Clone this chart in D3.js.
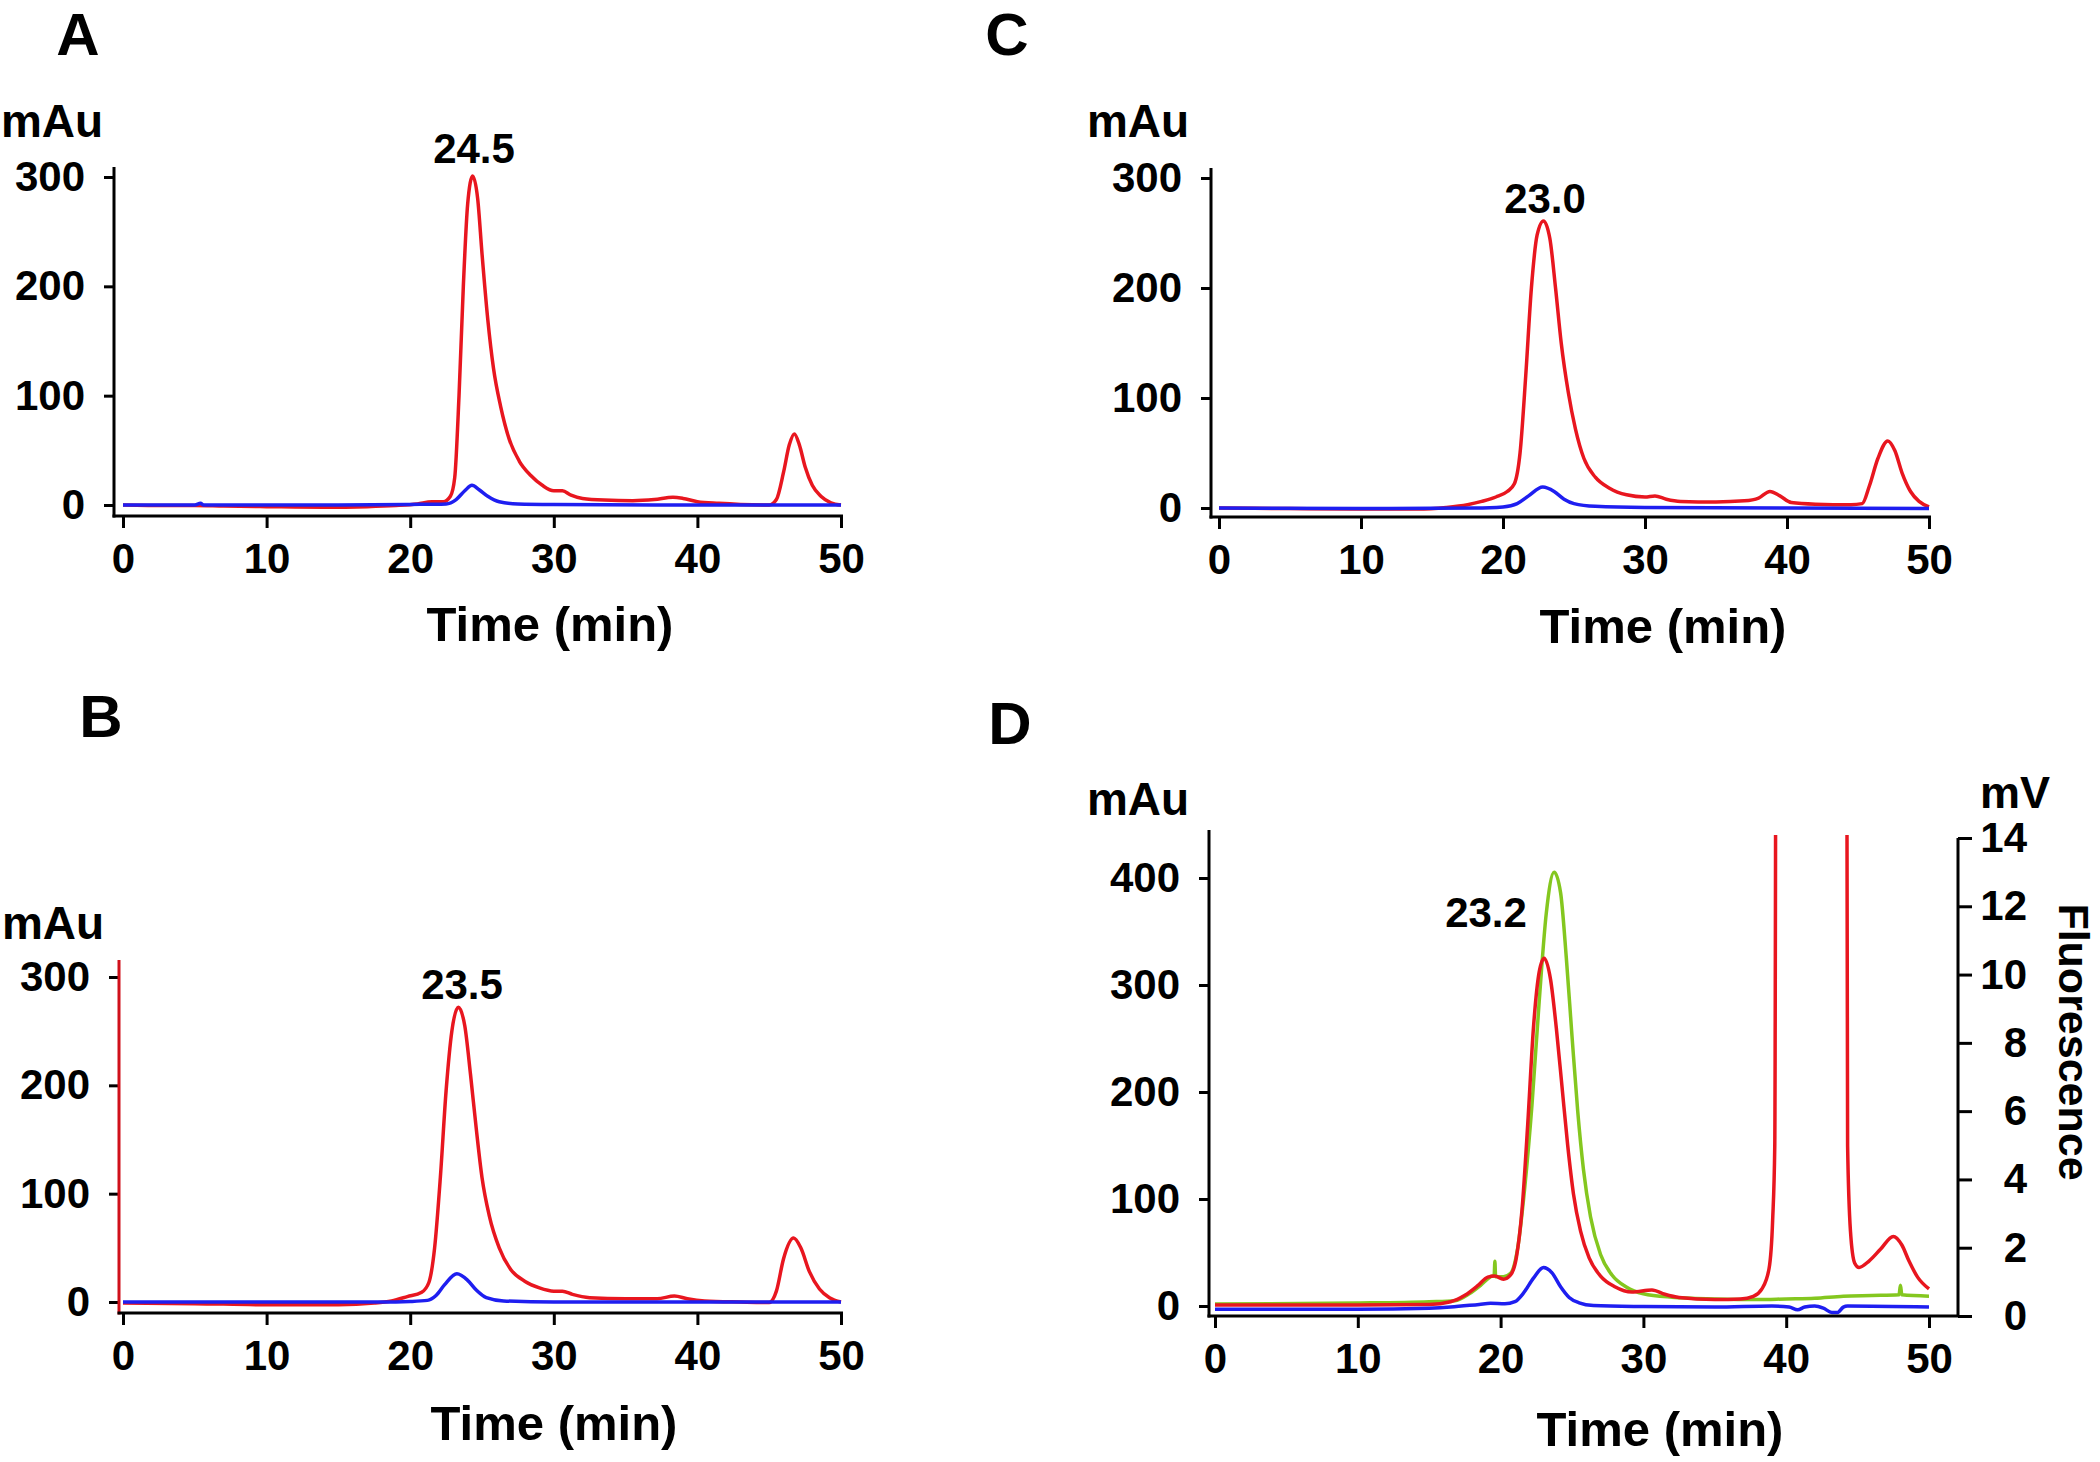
<!DOCTYPE html>
<html><head><meta charset="utf-8">
<script src="https://cdn.jsdelivr.net/npm/d3@7"></script>
<style>
html,body{margin:0;padding:0;background:#fff;}
svg{display:block;}
text{font-family:"Liberation Sans",Arial,sans-serif;font-weight:bold;fill:#000;}
</style>
</head><body>
<svg id="c" width="2100" height="1462"></svg>
<script>
// ---------- data ----------
const timeTicks = [0, 10, 20, 30, 40, 50];
const mAuTicks = [0, 100, 200, 300];
const mAuTicksD = [0, 100, 200, 300, 400];
const mVTicks = [0, 2, 4, 6, 8, 10, 12, 14];
const panelLetters = ["A", "B", "C", "D"];
const peakLabels = ["24.5", "23.5", "23.0", "23.2"];

// [time (min), absorbance (mAu)]
const redA = [[0,0],[3,-0.5],[5,-0.5],[7,-1],[10,-1.5],[14,-2],[17,-1.5],[19,-0.5],[20.5,1],[21.5,3],[22.3,3],[22.8,8],[23.1,25],[23.4,100],[23.7,200],[24.0,275],[24.35,301],[24.7,280],[25.0,230],[25.4,170],[25.8,125],[26.3,90],[26.9,60],[27.6,40],[28.4,27],[29.2,18],[30.0,13],[30.6,13],[31.2,9],[32,6],[33.5,4.5],[35.5,4],[37,5],[38.3,7],[39,6],[40,3],[41.5,1.5],[43,0.5],[45,0],[45.5,5],[46,30],[46.4,55],[46.75,65],[47.1,55],[47.5,35],[48,18],[48.6,8],[49.3,2],[50,0]];
const blueA = [[0,0],[5,0],[5.4,1.5],[5.6,0],[10,0],[15,0],[20,0.5],[22.5,1],[23.2,5],[23.8,13],[24.3,18],[24.8,14],[25.4,8],[26.2,3],[27.5,1],[30,0.5],[40,0],[50,0]];

const redB = [[0,-1],[5,-1.5],[10,-2.5],[15,-2.5],[17.5,-1],[18.7,1],[19.8,5],[20.8,9],[21.3,18],[21.7,50],[22.1,115],[22.5,195],[22.9,250],[23.35,272],[23.8,255],[24.2,210],[24.6,160],[25.0,115],[25.5,80],[26.2,50],[27,30],[28,19],[29,13],[30,10],[30.6,10],[31.3,7],[32.5,4],[35,3],[37.2,3],[38.4,5.5],[39.3,3],[40.5,1],[43,0],[45,-0.5],[45.5,10],[46,40],[46.7,59],[47.2,50],[47.8,28],[48.5,12],[49.2,4],[50,0]];
const blueB = [[0,0],[10,0],[18,0],[20,0.5],[21.2,1.5],[21.8,6],[22.4,16],[23.25,26],[24,20],[24.6,11],[25.3,4],[26.5,1],[30,0],[50,0]];

const redC = [[0,0],[5,-0.5],[10,-1],[14,-1],[16,0.5],[17.5,3],[18.5,6],[19.5,10],[20.3,15],[20.8,22],[21.2,50],[21.6,120],[22.0,200],[22.4,248],[22.85,261],[23.3,245],[23.7,200],[24.1,150],[24.6,105],[25.1,72],[25.7,45],[26.5,28],[27.5,18],[28.7,12],[30,10],[30.7,11],[31.5,8],[32.5,6],[35,5.5],[37,6.5],[38,9],[38.8,15],[39.5,11],[40.3,5],[42,3.5],[44.5,3],[45.3,4],[45.8,20],[46.4,45],[47.1,61],[47.6,52],[48.1,32],[48.7,15],[49.3,6],[50,1]];
const blueC = [[0,0],[10,-0.5],[18,0],[20,1],[21,4],[21.8,11],[22.8,19],[23.6,15],[24.3,8],[25,4],[26.5,1.5],[30,0.5],[40,0],[50,-0.5]];

const redD = [[0,1],[10,1],[15,1.5],[16.5,4],[17.5,10],[18.4,19],[19.1,27],[19.6,28],[20.2,25],[20.7,29],[21.1,45],[21.5,90],[21.9,170],[22.3,260],[22.7,312],[23.05,325],[23.5,305],[23.9,260],[24.3,205],[24.7,150],[25.1,105],[25.6,70],[26.2,45],[27,28],[28,18],[29.2,13],[30.6,15],[31.5,11],[32.5,8],[35,6],[36.8,6.5],[37.7,9],[38.3,16],[38.8,35],[39.05,80],[39.2,150],[39.4,1500],[44.1,1500],[44.3,150],[44.5,70],[44.8,40],[45.1,36],[45.8,42],[46.6,53],[47.5,65],[48.1,57],[48.6,42],[49.2,27],[50,16]];
const blueD = [[0,-3],[10,-3],[15,-2],[16.5,-1],[18.5,1.5],[19.3,2.5],[20.3,2],[21,4],[21.6,12],[22.3,26],[23.0,36],[23.6,31],[24.2,18],[24.8,8],[25.5,3],[26.5,0.5],[30,-0.5],[35,-1],[39,0],[40.2,-1],[40.8,-3.5],[41.3,-1],[42,0],[42.6,-2],[43.2,-6],[43.6,-6],[44,-1],[44.3,0],[50,-1]];
// [time (min), fluorescence (mV)]
const greenD = [[0,0.35],[10,0.38],[15,0.42],[16.8,0.45],[17.8,0.65],[18.6,0.9],[19.3,1.15],[19.55,1.2],[19.6,1.6],[19.65,1.15],[20.2,1.15],[20.7,1.25],[21.2,2.0],[21.7,3.8],[22.2,6.2],[22.7,9.2],[23.2,11.8],[23.75,13.0],[24.2,12.4],[24.6,10.5],[25.0,8.2],[25.4,6.0],[25.8,4.3],[26.3,2.9],[27,1.8],[27.8,1.2],[28.8,0.85],[30,0.65],[32,0.55],[35,0.5],[38,0.48],[40,0.5],[42,0.52],[44,0.58],[46,0.6],[47.9,0.62],[48,0.9],[48.1,0.62],[50,0.58]];

// ---------- style ----------
const RED = "#e8161f", BLUE = "#1e1ef0", GREEN = "#84c71f";
const svg = d3.select("#c");

const panels = [
  {id:"A", letter:panelLetters[0], peak:peakLabels[0], ax:114, top:167, base:516, xEnd:843, xr:[123,841], yd:[0,300], yr:[505,177], yt:mAuTicks,
   letterPos:[78,55], mAuPos:[52,137], peakPos:[474,163], titlePos:[550,641], axisColor:"#000",
   series:[{d:redA,c:RED},{d:blueA,c:BLUE}]},
  {id:"B", letter:panelLetters[1], peak:peakLabels[1], ax:119, top:960, base:1313, xEnd:843, xr:[123,841], yd:[0,300], yr:[1302,977], yt:mAuTicks,
   letterPos:[101,737], mAuPos:[53,939], peakPos:[462,999], titlePos:[554,1440], axisColor:"#d0101a",
   series:[{d:redB,c:RED},{d:blueB,c:BLUE}]},
  {id:"C", letter:panelLetters[2], peak:peakLabels[2], ax:1211, top:168, base:517, xEnd:1931, xr:[1219,1929], yd:[0,300], yr:[508,178], yt:mAuTicks,
   letterPos:[1007,55], mAuPos:[1138,137], peakPos:[1545,213], titlePos:[1663,643], axisColor:"#000",
   series:[{d:redC,c:RED},{d:blueC,c:BLUE}]},
  {id:"D", letter:panelLetters[3], peak:peakLabels[3], ax:1209, top:830, base:1316, xEnd:1958, xr:[1215,1929], yd:[0,400], yr:[1306,878], yt:mAuTicksD,
   letterPos:[1010,744], mAuPos:[1138,815], peakPos:[1486,927], titlePos:[1660,1446], axisColor:"#000",
   series:[{d:greenD,c:GREEN,right:true},{d:redD,c:RED},{d:blueD,c:BLUE}],
   right:{x:1958, yd:[0,14], yr:[1316,838], ticks:mVTicks, labelRight:2027, unitPos:[2015,808], titlePos:[2074,1042]}}
];

function styleAxis(sel){
  sel.attr("font-family", null).attr("font-size", null);
  sel.selectAll("text").attr("font-size", 42).attr("fill", "#000");
  sel.selectAll(".tick line").attr("stroke", "#000").attr("stroke-width", 3);
  sel.select(".domain").remove();
}

panels.forEach(p => {
  const g = svg.append("g").attr("id", "panel" + p.id);
  const x = d3.scaleLinear().domain([0, 50]).range(p.xr);
  const y = d3.scaleLinear().domain(p.yd).range(p.yr);

  // clip for traces
  const clipId = "clip" + p.id;
  g.append("clipPath").attr("id", clipId).append("rect")
    .attr("x", p.ax).attr("y", p.top + 5).attr("width", p.xEnd - p.ax).attr("height", p.base - p.top - 5);

  // y axis ticks (left)
  const ya = d3.axisLeft(y).tickValues(p.yt).tickSize(10).tickPadding(19).tickFormat(d3.format("d"));
  g.append("g").attr("transform", `translate(${p.ax},0)`).call(ya).call(styleAxis);

  // x axis ticks
  const xa = d3.axisBottom(x).tickValues(timeTicks).tickSize(12).tickPadding(15).tickFormat(d3.format("d"));
  g.append("g").attr("transform", `translate(0,${p.base})`).call(xa).call(styleAxis);

  // right axis
  let yR = null;
  if (p.right) {
    const r = p.right;
    yR = d3.scaleLinear().domain(r.yd).range(r.yr);
    const ra = d3.axisRight(yR).tickValues(r.ticks).tickSize(14).tickPadding(4).tickFormat(d3.format("d"));
    const rg = g.append("g").attr("transform", `translate(${r.x},0)`).call(ra).call(styleAxis);
    rg.selectAll(".tick text").attr("text-anchor", "end").attr("x", r.labelRight - r.x);
    g.append("line").attr("x1", r.x).attr("x2", r.x).attr("y1", r.yr[1]).attr("y2", p.base)
      .attr("stroke", "#000").attr("stroke-width", 3);
    g.append("text").attr("x", r.unitPos[0]).attr("y", r.unitPos[1]).attr("text-anchor", "middle")
      .attr("font-size", 45).text("mV");
    g.append("text").attr("transform", `translate(${r.titlePos[0]},${r.titlePos[1]}) rotate(90)`)
      .attr("text-anchor", "middle").attr("dominant-baseline", "central")
      .attr("font-size", 43).text("Fluorescence");
  }

  // traces
  const tg = g.append("g").attr("clip-path", `url(#${clipId})`);
  p.series.forEach(s => {
    const ys = s.right ? yR : y;
    const line = d3.line().x(d => x(d[0])).y(d => ys(d[1])).curve(d3.curveMonotoneX);
    tg.append("path").attr("d", line(s.d)).attr("fill", "none")
      .attr("stroke", s.c).attr("stroke-width", 3.5).attr("stroke-linejoin", "round");
  });

  // axis lines
  g.append("line").attr("x1", p.ax).attr("x2", p.ax).attr("y1", p.top).attr("y2", p.base + 1.5)
    .attr("stroke", p.axisColor).attr("stroke-width", 3);
  g.append("line").attr("x1", p.ax - 1.5).attr("x2", p.xEnd).attr("y1", p.base).attr("y2", p.base)
    .attr("stroke", "#000").attr("stroke-width", 3);

  // texts
  g.append("text").attr("x", p.letterPos[0]).attr("y", p.letterPos[1]).attr("text-anchor", "middle")
    .attr("font-size", 60).text(p.letter);
  g.append("text").attr("x", p.mAuPos[0]).attr("y", p.mAuPos[1]).attr("text-anchor", "middle")
    .attr("font-size", 46).text("mAu");
  g.append("text").attr("x", p.peakPos[0]).attr("y", p.peakPos[1]).attr("text-anchor", "middle")
    .attr("font-size", 42).text(p.peak);
  g.append("text").attr("x", p.titlePos[0]).attr("y", p.titlePos[1]).attr("text-anchor", "middle")
    .attr("font-size", 49).text("Time (min)");
});
</script>
</body></html>
